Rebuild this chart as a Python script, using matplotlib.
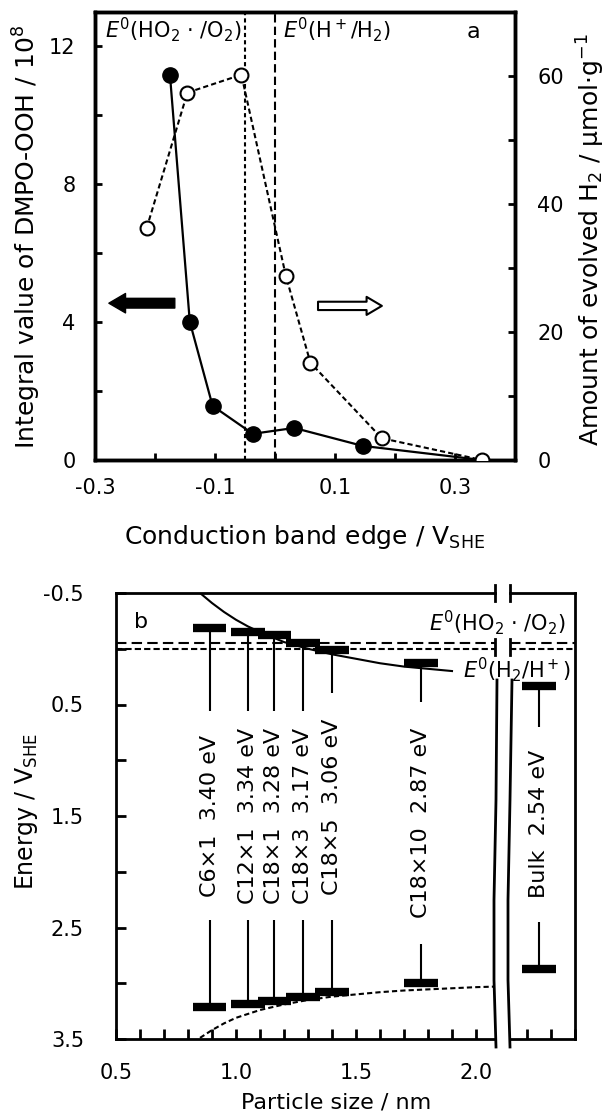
import matplotlib
matplotlib.use('Agg')
import matplotlib.pyplot as plt
from matplotlib.patches import FancyArrowPatch
from matplotlib.lines import Line2D
from matplotlib.ticker import MultipleLocator, FixedLocator, FormatStrFormatter

plt.rcParams['font.family'] = ['DejaVu Sans']
plt.rcParams['mathtext.default'] = 'regular'
plt.rcParams['axes.unicode_minus'] = False

# ---- panel a data ----
cb_dmpo = [-0.175, -0.142, -0.104, -0.037, 0.032, 0.146, 0.345]
dmpo_ooh = [11.16, 4.01, 1.57, 0.76, 0.93, 0.41, 0.0]
cb_h2 = [-0.214, -0.146, -0.056, 0.018, 0.059, 0.178, 0.345]
h2_amount = [36.2, 57.4, 60.2, 28.8, 15.2, 3.4, 0.0]
e_ho2 = -0.05
e_h2 = 0.0

# ---- panel b data ----
samples = ['C6×1', 'C12×1', 'C18×1', 'C18×3', 'C18×5', 'C18×10']
size_nm = [0.89, 1.05, 1.16, 1.28, 1.40, 1.77]
cb_edge = [-0.19, -0.15, -0.12, -0.05, 0.015, 0.125]
band_gap = [3.40, 3.34, 3.28, 3.17, 3.06, 2.87]
cb_stem_end = [0.56, 0.56, 0.56, 0.56, 0.40, 0.475]
vb_stem_end = [2.43, 2.43, 2.43, 2.43, 2.43, 2.65]
bulk_x = 2.25
bulk_cb = 0.33
bulk_gap = 2.54
bulk_stems = [0.70, 2.45]

cb_curve_x = [0.85, 0.90, 0.95, 1.00, 1.05, 1.10, 1.20, 1.30, 1.40, 1.50, 1.60, 1.70, 1.80, 1.90]
cb_curve_y = [-0.50, -0.41, -0.33, -0.26, -0.20, -0.15, -0.06, 0.00, 0.05, 0.09, 0.13, 0.16, 0.18, 0.20]
vb_curve_x = [0.85, 0.90, 0.95, 1.00, 1.10, 1.20, 1.30, 1.40, 1.50, 1.60, 1.70, 1.80, 1.90, 2.00, 2.08]
vb_curve_y = [3.49, 3.42, 3.36, 3.31, 3.24, 3.19, 3.15, 3.12, 3.10, 3.08, 3.065, 3.055, 3.045, 3.035, 3.03]

W, H = 608, 1115
fig = plt.figure(figsize=(W / 100, H / 100), dpi=100)


def fx(px):
    return px / W


def fy(py):
    return 1 - py / H


# ================= panel a =================
ax = fig.add_axes([fx(95), fy(460), fx(515) - fx(95), fy(12) - fy(460)])
ax2 = ax.twinx()

ax.plot(cb_dmpo, dmpo_ooh, '-', color='black', lw=1.6, marker='o', ms=11,
        markevery=list(range(6)), zorder=3)
ax2.plot(cb_h2, h2_amount, color='black', lw=1.5, ls=(0, (2.5, 1.5)),
         marker='o', ms=10, mfc='white', mec='black', mew=1.5, zorder=3)

ax.axvline(e_ho2, color='black', lw=1.5, ls=(0, (2, 1.5)))
ax.axvline(e_h2, color='black', lw=1.5, ls=(0, (4, 2)))

ax.set_xlim(-0.3, 0.4)
ax.set_ylim(0, 13)
ax2.set_ylim(0, 70)
ax.xaxis.set_major_locator(FixedLocator([-0.3, -0.1, 0.1, 0.3]))
ax.xaxis.set_minor_locator(FixedLocator([-0.2, 0.0, 0.2]))
ax.yaxis.set_major_locator(MultipleLocator(4))
ax.yaxis.set_minor_locator(MultipleLocator(2))
ax2.yaxis.set_major_locator(MultipleLocator(20))
ax2.yaxis.set_minor_locator(MultipleLocator(10))

for a in (ax, ax2):
    for s in a.spines.values():
        s.set_linewidth(2.5)
ax.tick_params(which='both', direction='in', length=5, width=2, labelsize=15)
ax.tick_params(axis='x', which='both', top=False, pad=13)
ax.tick_params(axis='y', which='both', right=False, pad=14)
ax2.tick_params(which='both', direction='in', length=5, width=2, labelsize=15, pad=16)

ax.text(0.024, 0.96, r'$\mathit{E}^{\mathit{0}}$(HO$_2$ · /O$_2$)', transform=ax.transAxes,
        fontsize=15, ha='left', va='center')
ax.text(0.448, 0.96, r'$\mathit{E}^{\mathit{0}}$(H$^+$/H$_2$)', transform=ax.transAxes,
        fontsize=15, ha='left', va='center')
ax.text(0.9, 0.955, 'a', transform=ax.transAxes, fontsize=16, ha='center', va='center')

# direction arrows
arr_l = FancyArrowPatch((0.19, 0.35), (0.033, 0.35), transform=ax.transAxes,
                        arrowstyle='simple,head_length=12,head_width=14,tail_width=7',
                        mutation_scale=1, shrinkA=0, shrinkB=0,
                        facecolor='black', edgecolor='black', lw=1)
arr_r = FancyArrowPatch((0.531, 0.344), (0.683, 0.344), transform=ax.transAxes,
                        arrowstyle='simple,head_length=11,head_width=13,tail_width=6',
                        mutation_scale=1, shrinkA=0, shrinkB=0,
                        facecolor='white', edgecolor='black', lw=1.5)
ax.add_patch(arr_l)
ax.add_patch(arr_r)

fig.text(fx(27), fy(237), 'Integral value of DMPO-OOH / 10$^8$', rotation=90,
         ha='center', va='center', fontsize=18)
fig.text(fx(591), fy(240), 'Amount of evolved H$_2$ / μmol·g$^{-1}$', rotation=90,
         ha='center', va='center', fontsize=18)
fig.text(fx(305), fy(537), 'Conduction band edge / V$_{SHE}$',
         ha='center', va='center', fontsize=18)

# ================= panel b =================
bl, br, bt, bb = 116, 495, 593, 1039
axl = fig.add_axes([fx(bl), fy(bb), fx(br) - fx(bl), fy(bt) - fy(bb)])
axr = fig.add_axes([fx(510), fy(bb), fx(575) - fx(510), fy(bt) - fy(bb)])

axl.set_xlim(0.5, 0.5 + (br - bl) / 240)
axr.set_xlim(2.13, 2.40)
for a in (axl, axr):
    a.set_ylim(3.5, -0.5)
    for s in a.spines.values():
        s.set_linewidth(2)
    a.axhline(e_ho2, color='black', lw=1.5, ls=(0, (5, 2.5)))
    a.axhline(e_h2, color='black', lw=1.5, ls=(0, (3, 1.5)))
    a.xaxis.set_minor_locator(MultipleLocator(0.1))
axl.spines['right'].set_visible(False)
axr.spines['left'].set_visible(False)

axl.xaxis.set_major_locator(MultipleLocator(0.5))
axl.xaxis.set_major_formatter(FormatStrFormatter('%.1f'))
axl.yaxis.set_major_locator(FixedLocator([-0.5, 0.5, 1.5, 2.5, 3.5]))
axl.yaxis.set_minor_locator(FixedLocator([0.0, 1.0, 2.0, 3.0]))
axl.tick_params(which='both', direction='in', length=7, width=2, labelsize=15,
                top=False, right=False)
axl.tick_params(axis='x', which='both', pad=17)
axl.tick_params(axis='y', which='both', pad=23)
axr.xaxis.set_major_locator(MultipleLocator(0.1))
axr.tick_params(which='both', direction='in', length=7, width=2, labelbottom=False,
                left=False, labelleft=False, top=False)

axl.plot(cb_curve_x, cb_curve_y, color='black', lw=1.5, clip_on=True)
axl.plot(vb_curve_x, vb_curve_y, color='black', lw=1.5, ls=(0, (2.5, 1.5)))

vb_edge = [c + g for c, g in zip(cb_edge, band_gap)]
axl.vlines(size_nm, cb_edge, cb_stem_end, color='black', lw=1.5)
axl.vlines(size_nm, vb_stem_end, vb_edge, color='black', lw=1.5)
axl.hlines(cb_edge, [x - 0.07 for x in size_nm], [x + 0.07 for x in size_nm],
           color='black', lw=6, zorder=4)
axl.hlines(vb_edge, [x - 0.07 for x in size_nm], [x + 0.07 for x in size_nm],
           color='black', lw=6, zorder=4)
for x, name, g, lo, hi in zip(size_nm, samples, band_gap, cb_stem_end, vb_stem_end):
    axl.text(x, (lo + hi) / 2, f'{name}  {g:.2f} eV', rotation=90,
             ha='center', va='center', fontsize=16)

bulk_vb = bulk_cb + bulk_gap
axr.vlines([bulk_x], [bulk_cb], [bulk_stems[0]], color='black', lw=1.5)
axr.vlines([bulk_x], [bulk_stems[1]], [bulk_vb], color='black', lw=1.5)
axr.hlines([bulk_cb, bulk_vb], bulk_x - 0.07, bulk_x + 0.07, color='black', lw=6, zorder=4)
axr.text(bulk_x, sum(bulk_stems) / 2, f'Bulk  {bulk_gap:.2f} eV', rotation=90,
         ha='center', va='center', fontsize=16)

axl.text(0.067, 0.936, 'b', transform=axl.transAxes, fontsize=16, ha='center', va='center')
fig.text(fx(566), fy(623), r'$\mathit{E}^{\mathit{0}}$(HO$_2$ · /O$_2$)',
         ha='right', va='center', fontsize=15)
fig.text(fx(463), fy(670), r'$\mathit{E}^{\mathit{0}}$(H$_2$/H$^+$)',
         ha='left', va='center', fontsize=15)

# axis break marks
for xb in (495, 510):
    for y0, y1 in ((585, 601), (639, 655)):
        fig.add_artist(Line2D([fx(xb), fx(xb)], [fy(y0), fy(y1)], color='black', lw=2))
brk_y = [680, 800, 900, 980, 1047]
for xs in ([497, 496, 494, 494, 496], [512, 510, 508, 508, 510]):
    fig.add_artist(Line2D([fx(v) for v in xs], [fy(v) for v in brk_y], color='black', lw=2))

fig.text(fx(27), fy(812), 'Energy / V$_{SHE}$', rotation=90, ha='center', va='center',
         fontsize=17)
fig.text(fx(336), fy(1102), 'Particle size / nm', ha='center', va='center', fontsize=16)

fig.savefig('out.png', dpi=100)
